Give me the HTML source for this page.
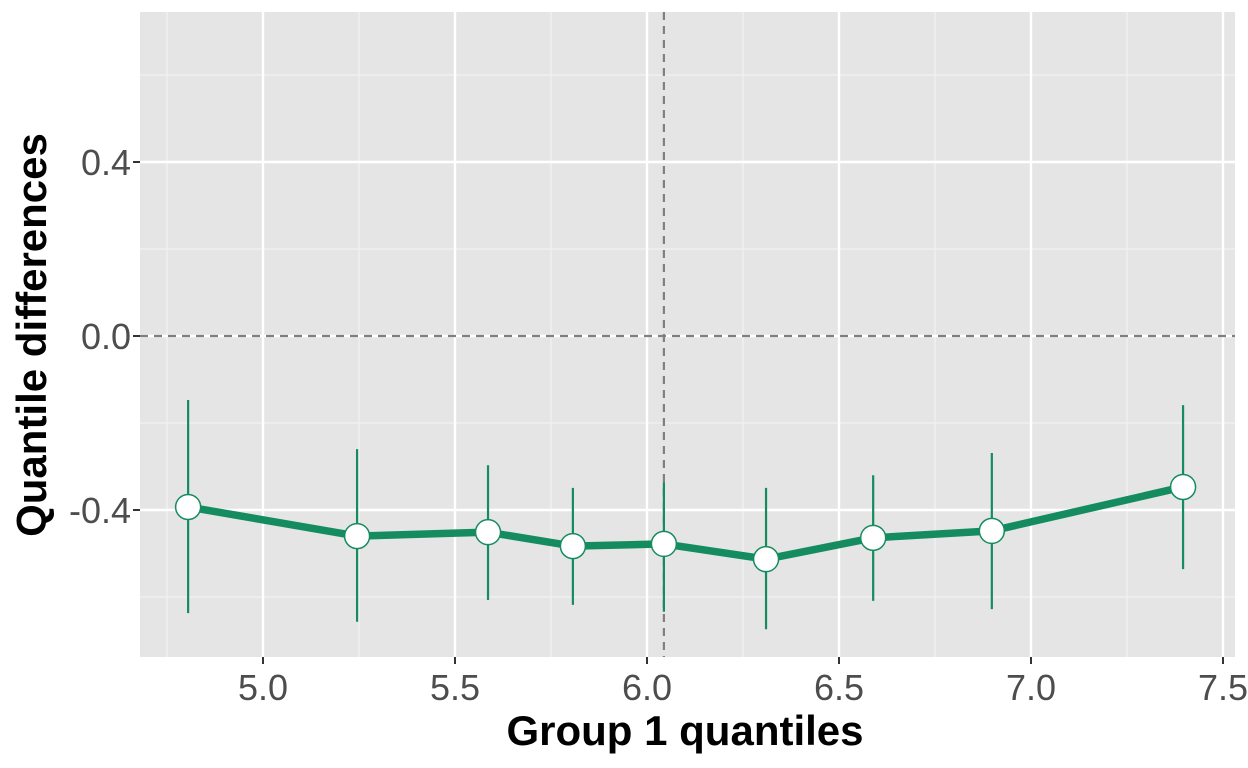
<!DOCTYPE html>
<html><head><meta charset="utf-8"><style>
body{margin:0;background:#fff;}
svg{display:block;font-family:"Liberation Sans",sans-serif;}
</style></head><body>
<svg id="chart" width="1248" height="768"></svg>
<script>
const xs=[4.805,5.245,5.586,5.807,6.044,6.310,6.589,6.898,7.396];
const ys=[-0.393,-0.460,-0.451,-0.483,-0.478,-0.513,-0.464,-0.448,-0.347];
const upper=[-0.147,-0.260,-0.297,-0.349,-0.336,-0.349,-0.320,-0.269,-0.159];
const lower=[-0.637,-0.657,-0.607,-0.618,-0.634,-0.674,-0.609,-0.628,-0.536];
const xTicks=[5.0,5.5,6.0,6.5,7.0,7.5];
const xTickLabels=["5.0","5.5","6.0","6.5","7.0","7.5"];
const yTicks=[0.4,0.0,-0.4];
const yTickLabels=["0.4","0.0","-0.4"];
const xMinor=[4.75,5.25,5.75,6.25,6.75,7.25];
const yMinor=[0.6,0.2,-0.2,-0.6];
const vLine=6.044, hLine=0;

const L=140,R=1235,T=12,B=657;
const X=v=>263+(v-5)*384;
const Y=v=>336-v*435;
const svg=document.getElementById('chart');
const NS='http://www.w3.org/2000/svg';
function mk(tag,attrs,parent){const e=document.createElementNS(NS,tag);for(const k in attrs)e.setAttribute(k,attrs[k]);(parent||svg).appendChild(e);return e;}

let bg=mk('rect',{x:L,y:T,width:R-L,height:B-T,fill:'#e5e5e5'});


const grid=mk('g',{});


xMinor.forEach(v=>mk('line',{x1:X(v),x2:X(v),y1:T,y2:B,stroke:'#f2f2f2','stroke-width':1.2},grid));
yMinor.forEach(v=>mk('line',{x1:L,x2:R,y1:Y(v),y2:Y(v),stroke:'#f2f2f2','stroke-width':1.2},grid));
xTicks.forEach(v=>mk('line',{x1:X(v),x2:X(v),y1:T,y2:B,stroke:'#fff','stroke-width':2.4},grid));
yTicks.forEach(v=>mk('line',{x1:L,x2:R,y1:Y(v),y2:Y(v),stroke:'#fff','stroke-width':2.4},grid));

let hl=mk('line',{x1:L,x2:R,y1:Y(hLine),y2:Y(hLine),stroke:'#7f7f7f','stroke-width':2.2,'stroke-dasharray':'8,6'});


let vl=mk('line',{x1:X(vLine),x2:X(vLine),y1:T,y2:B,stroke:'#7f7f7f','stroke-width':2.2,'stroke-dasharray':'8,6'});



xs.forEach((v,i)=>{
  const e=mk('line',{x1:X(v),x2:X(v),y1:Y(upper[i]),y2:Y(lower[i]),stroke:'#148c5f','stroke-width':2.2});
  
  
});
let ln=mk('polyline',{points:xs.map((v,i)=>X(v)+','+Y(ys[i])).join(' '),fill:'none',stroke:'#148c5f','stroke-width':7.5,'stroke-linejoin':'round'});


xs.forEach((v,i)=>{
  const c=mk('circle',{cx:X(v),cy:Y(ys[i]),r:12.5,fill:'#fff',stroke:'#148c5f','stroke-width':1.5});
  
  
});

xTicks.forEach((v,i)=>{
  mk('line',{x1:X(v),x2:X(v),y1:B,y2:B+7,stroke:'#333','stroke-width':2});
  const t=mk('text',{x:X(v),y:700,'text-anchor':'middle','font-size':36,fill:'#4d4d4d'});
  t.textContent=xTickLabels[i];
  
  
});
yTicks.forEach((v,i)=>{
  mk('line',{x1:L-7,x2:L,y1:Y(v),y2:Y(v),stroke:'#333','stroke-width':2});
  const t=mk('text',{x:L-9,y:Y(v)+13,'text-anchor':'end','font-size':36,fill:'#4d4d4d'});
  t.textContent=yTickLabels[i];
  
  
});
let xt=mk('text',{x:685,y:745,'text-anchor':'middle','font-size':42,'font-weight':'bold',fill:'#000'});
xt.textContent='Group 1 quantiles';


let yt=mk('text',{x:0,y:0,'text-anchor':'middle','font-size':42,'font-weight':'bold',fill:'#000',transform:'translate(46,335) rotate(-90)'});
yt.textContent='Quantile differences';


</script>
</body></html>
